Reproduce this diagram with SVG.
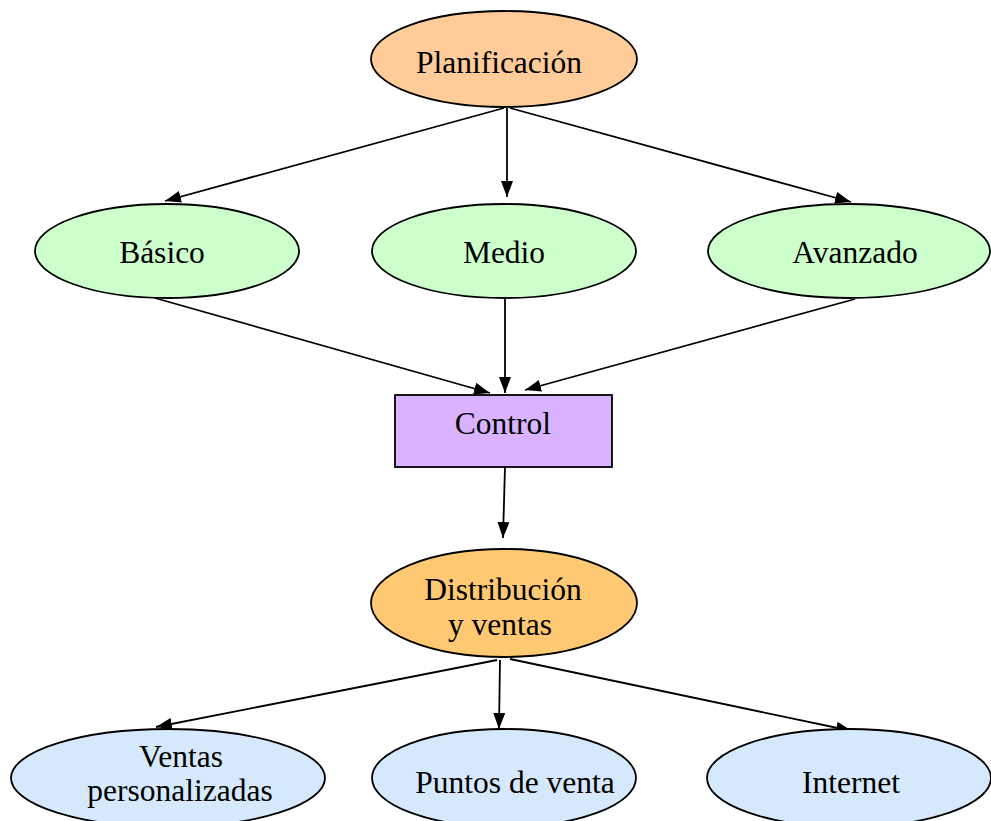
<svg xmlns="http://www.w3.org/2000/svg" width="991" height="821" viewBox="0 0 991 821">
<defs>
<marker id="ah" viewBox="0 0 16 12" refX="16" refY="6" markerWidth="16" markerHeight="12" markerUnits="userSpaceOnUse" orient="auto">
<path d="M0,0 L16,6 L0,12 Z" fill="#000"/>
</marker>
<style>
.n{stroke:#000;stroke-width:1.8}
.t{font-family:"Liberation Serif","Times New Roman",serif;font-size:31.5px;fill:#000;text-anchor:middle}
.e{stroke:#000;stroke-width:1.8;fill:none;marker-end:url(#ah)}
</style>
</defs>
<rect width="991" height="821" fill="#fff"/>
<g id="connectors">
<line class="e" x1="504" y1="108" x2="165" y2="201"/>
<line class="e" x1="507" y1="108" x2="507" y2="197"/>
<line class="e" x1="510" y1="108" x2="851" y2="202"/>
<line class="e" x1="155" y1="298" x2="490" y2="393"/>
<line class="e" x1="505" y1="299" x2="505" y2="393"/>
<line class="e" x1="855" y1="299" x2="525" y2="390"/>
<line class="e" x1="505" y1="467" x2="503" y2="538"/>
<line class="e" x1="497" y1="660" x2="156" y2="727"/>
<line class="e" x1="500" y1="660" x2="499" y2="729"/>
<line class="e" x1="510" y1="659" x2="852" y2="731"/>
</g>
<g id="planificacion"><ellipse class="n" cx="504" cy="59" rx="133" ry="48" fill="#FFCC99"/><text class="t" x="499" y="73">Planificación</text></g>
<g id="basico"><ellipse class="n" cx="167" cy="251" rx="132" ry="47" fill="#CCFFCC"/><text class="t" x="162" y="263">Básico</text></g>
<g id="medio"><ellipse class="n" cx="504" cy="251" rx="132" ry="47" fill="#CCFFCC"/><text class="t" x="504" y="263">Medio</text></g>
<g id="avanzado"><ellipse class="n" cx="849" cy="251" rx="141" ry="47" fill="#CCFFCC"/><text class="t" x="855" y="263">Avanzado</text></g>
<g id="control"><rect class="n" x="395" y="395" width="217" height="72" fill="#D9B3FF"/><text class="t" x="503" y="434">Control</text></g>
<g id="distribucion"><ellipse class="n" cx="504" cy="603" rx="133" ry="54" fill="#FFC973"/><text class="t" x="503" y="600">Distribución</text><text class="t" x="500" y="635">y ventas</text></g>
<g id="ventas"><ellipse class="n" cx="168" cy="778" rx="157" ry="49" fill="#D6E9FC"/><text class="t" x="181" y="767">Ventas</text><text class="t" x="180" y="801">personalizadas</text></g>
<g id="puntos"><ellipse class="n" cx="504" cy="778" rx="132" ry="49" fill="#D6E9FC"/><text class="t" x="515" y="793">Puntos de venta</text></g>
<g id="internet"><ellipse class="n" cx="849" cy="778" rx="142" ry="49" fill="#D6E9FC"/><text class="t" x="851" y="793">Internet</text></g>
</svg>
